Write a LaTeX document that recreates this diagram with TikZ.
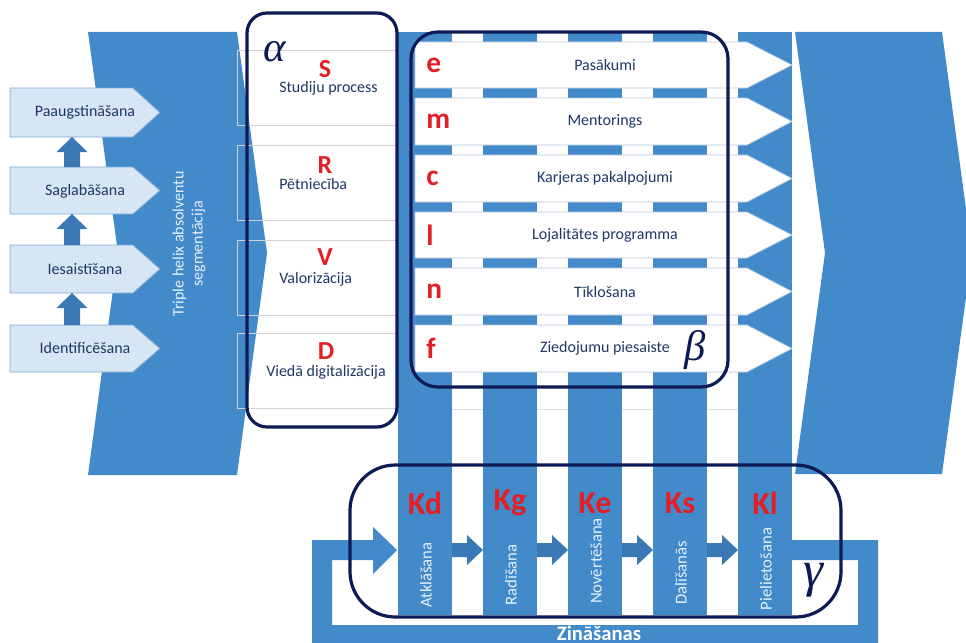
\documentclass[tikz,border=0pt]{standalone}
\usepackage{fontspec}
\setmainfont{Carlito}
\newfontfamily\grk{Liberation Serif}
\definecolor{mblue}{HTML}{428ACA}
\definecolor{dblue}{HTML}{3A78B6}
\definecolor{navy}{HTML}{0E1A55}
\definecolor{lfill}{HTML}{D7E6F5}
\definecolor{lborder}{HTML}{7FA8D6}
\definecolor{txt}{HTML}{1F3864}
\definecolor{kred}{HTML}{E31E24}
\definecolor{abord}{HTML}{B4C8DE}
\tikzset{
  lbl/.style={text=txt, font=\fontsize{12}{14}\selectfont, inner sep=0pt},
  bigred/.style={text=kred, font=\bfseries\fontsize{22}{22}\selectfont, inner sep=0pt},
  capred/.style={text=kred, font=\bfseries\fontsize{19.5}{20}\selectfont, inner sep=0pt, anchor=base},
  klet/.style={text=kred, font=\bfseries\fontsize{24}{24}\selectfont, inner sep=0pt},
  vlbl/.style={text=white!88!mblue, font=\fontsize{12.5}{14}\selectfont, rotate=90, inner sep=0pt},
  gbox/.style={draw=navy, line width=2.4pt},
  greek/.style={text=navy, inner sep=0pt},
  leftpent/.style={fill=lfill, draw=lborder, line width=0.7pt},
  rightarrow/.style={fill=white, draw=abord, line width=0.6pt},
}
\begin{document}
\begin{tikzpicture}[x=0.75pt,y=-0.75pt]
\useasboundingbox (0,0) rectangle (966,642);
\clip (0,0) rectangle (966,642);

% white rectangles behind alpha box
\foreach \t/\b in {50/125,145/220,240/315,333/408}
  \fill[white] (237,\t) rectangle (398,\b);

% left chevron
\fill[mblue] (88,32) -- (237,32) -- (267,253) -- (237,475) -- (88,475) -- (118,253) -- cycle;

% outlines of the rectangles
\foreach \t/\b in {50/125,145/220,240/315,333/408}
  \draw[gray!35, line width=0.6pt] (237,\t) rectangle (398,\b);

% right chevron
\fill[mblue] (795,32) -- (942,32) -- (972,253) -- (942,474) -- (795,474) -- (825,253) -- cycle;

% columns
\foreach \x in {398,483,568,653,738}
  \fill[mblue] (\x,32) rectangle ++(54,583);

% faint line across the gaps
\foreach \x in {452,537,622,707}
  \draw[gray!25, line width=0.5pt] (\x,409) -- (\x+31,409);

% knowledge loop
\fill[mblue] (312,540) -- (373,540) -- (373,527) -- (397,550) -- (373,574) -- (373,560)
  -- (332,560) -- (332,625) -- (858,625) -- (858,560) -- (790,560) -- (790,540)
  -- (878,540) -- (878,660) -- (312,660) -- cycle;

% small arrows between columns
\foreach \x in {452,537,622,707}
  \fill[dblue] (\x,543) -- (\x+15,543) -- (\x+15,535) -- (\x+31,550) -- (\x+15,565)
    -- (\x+15,557) -- (\x,557) -- cycle;

% white arrows
\foreach \t/\b in {42/88,98/145,155/202,212/258,268/315,325/372}
  \draw[rightarrow] (415,\t) -- (747,\t) -- (792,{(\t+\b)/2}) -- (747,\b) -- (415,\b) -- cycle;

% left pentagons
\foreach \t/\b in {88/137,167/214,245/293,325/372}
  \draw[leftpent] (10,\t) -- (133,\t) -- (160,{(\t+\b)/2}) -- (133,\b) -- (10,\b) -- cycle;

% up arrows
\foreach \tip/\base in {137/167,214/245,293/325}
  \fill[dblue] (72,\tip) -- (87.5,\tip+15) -- (80,\tip+15) -- (80,\base) -- (64,\base)
    -- (64,\tip+15) -- (56.5,\tip+15) -- cycle;

% group boxes
\draw[gbox, rounded corners=15] (247,13) rectangle (397,427);
\draw[gbox, rounded corners=20] (411,32) rectangle (728,387);
\draw[gbox, rounded corners=34] (350,465) rectangle (841,617);

% left labels
\node[lbl] (pa) at (85,112) {Paaugstināšana};
\node[lbl] (sa) at (85,191) {Saglabāšana};
\node[lbl] (ie) at (85,269) {Iesaistīšana};
\node[lbl] (id) at (85,348) {Identificēšana};

\node[text=white!88!mblue, font=\fontsize{12}{14.3}\selectfont, rotate=90, align=center, inner sep=0pt]
  (th) at (189,244) {Triple helix absolventu\\segmentācija};

% alpha column
\node[greek, font=\grk\itshape\fontsize{32}{32}\selectfont] (al) at (275,52) {α};
\node[capred] (S) at (325,77) {S};
\node[lbl, anchor=base west] (s1) at (279,93) {Studiju process};
\node[capred] (R) at (325,173) {R};
\node[lbl, anchor=base west] (s2) at (279,189) {Pētniecība};
\node[capred] (V) at (325,265) {V};
\node[lbl, anchor=base west] (s3) at (279,283) {Valorizācija};
\node[capred] (D) at (326,359) {D};
\node[lbl, anchor=base west] (s4) at (266,376) {Viedā digitalizācija};

% beta column
\foreach \y/\l/\t [count=\i] in {65/e/Pasākumi,121.5/m/Mentorings,178.5/c/Karjeras pakalpojumi,235/l/Lojalitātes programma,291.5/n/Tīklošana,348.5/f/Ziedojumu piesaiste}{
  \node[bigred, anchor=west] (b\i) at (426,\y) {\l};
  \node[lbl] (bt\i) at (605,\y) {\t};
}
\node[greek, font=\grk\itshape\fontsize{32}{32}\selectfont] (be) at (695,350) {β};

% gamma row
\node[klet] (Kd) at (425,503) {Kd};
\node[klet] (Kg) at (510,503) {Kg};
\node[klet] (Ke) at (595,503) {Ke};
\node[klet] (Ks) at (680,503) {Ks};
\node[klet] (Kl) at (765,503) {Kl};
\node[vlbl] (v1) at (426,575) {Atklāšana};
\node[vlbl] (v2) at (511,575) {Radīšana};
\node[vlbl] (v3) at (596,561) {Novērtēšana};
\node[vlbl] (v4) at (681,573) {Dalīšanās};
\node[vlbl] (v5) at (766,569) {Pielietošana};
\node[greek, font=\grk\itshape\fontsize{38}{38}\selectfont] (ga) at (813,580) {γ};

\node[text=white, font=\bfseries\fontsize{15.5}{16}\selectfont, anchor=base, inner sep=0pt] (zn) at (599,640) {Zināšanas};
\end{tikzpicture}
\end{document}
